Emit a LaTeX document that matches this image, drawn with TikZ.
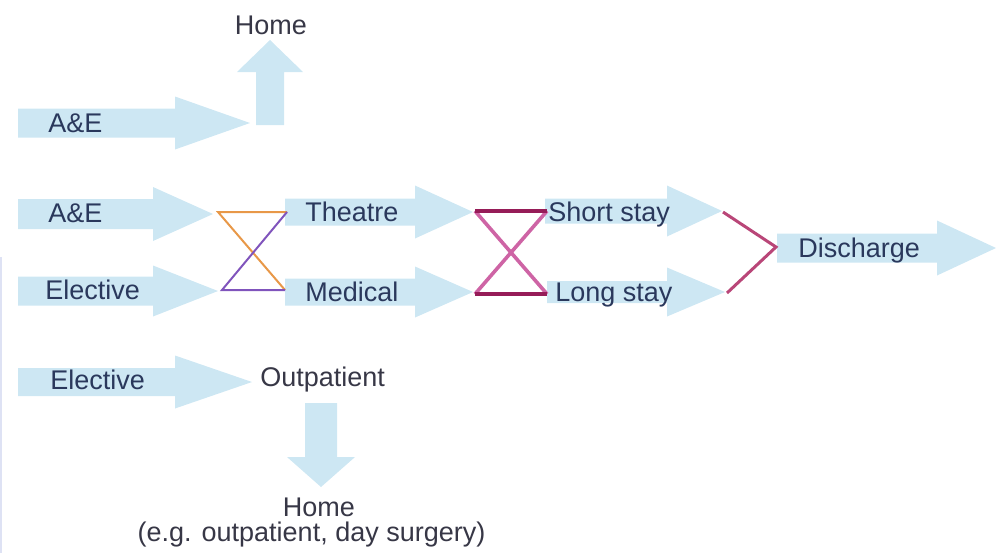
\documentclass[tikz,border=0pt]{standalone}
\usepackage{fontspec}
\setmainfont{Liberation Sans}
\usepackage{tikz}
\usetikzlibrary{positioning}
\definecolor{flowblue}{RGB}{205,231,243}
\definecolor{flowtext}{RGB}{42,56,92}
\definecolor{flowgrey}{RGB}{55,55,70}
\definecolor{flowedge}{RGB}{222,226,244}
\definecolor{xorange}{RGB}{232,152,72}
\definecolor{xpurple}{RGB}{128,84,188}
\definecolor{xcrimson}{RGB}{150,28,88}
\definecolor{xpink}{RGB}{206,100,165}
\definecolor{xmerge}{RGB}{185,70,120}
% horizontal block arrow: x start, head base, tip, y, body half, head half
\newcommand{\flowarrow}[6]{%
  \fill[flowblue] (#1,#4-#5) -- (#2,#4-#5) -- (#2,#4-#6) -- (#3,#4) -- (#2,#4+#6) -- (#2,#4+#5) -- (#1,#4+#5) -- cycle;}
% vertical block arrow: x centre, y start, head base, tip, body half, head half
\newcommand{\vflowarrow}[6]{%
  \fill[flowblue] (#1-#5,#2) -- (#1-#5,#3) -- (#1-#6,#3) -- (#1,#4) -- (#1+#6,#3) -- (#1+#5,#3) -- (#1+#5,#2) -- cycle;}
\begin{document}
\begin{tikzpicture}[x=0.5pt,y=-0.5pt,font=\fontsize{13.5}{16}\selectfont,
    every node/.style={inner sep=0pt,text height=9.7pt,text depth=0pt,text=flowtext},
    lbl/.style={anchor=west},
    plain/.style={text=flowgrey,align=center}]
    \useasboundingbox (0,0) rectangle (996,553);
    \draw[flowedge,line width=0.6pt] (1,257) -- (1,553);
    % arrows
    \flowarrow{18}{175}{250}{123}{14.5}{26.5}
    \vflowarrow{270}{125}{72}{40}{14}{33}
    \flowarrow{18}{153}{213}{214}{15}{27}
    \flowarrow{18}{153}{218}{291}{14.5}{25.5}
    \flowarrow{285}{415}{473}{212}{13.5}{26.5}
    \flowarrow{285}{415}{473}{292}{13.5}{25.5}
    \flowarrow{545}{667}{722}{211}{12.5}{25.5}
    \flowarrow{547}{667}{725}{292}{11}{24.5}
    \flowarrow{777}{937}{996}{248}{14.5}{27.5}
    \flowarrow{18}{175}{252}{382}{14}{26.5}
    \vflowarrow{321}{403}{457}{487}{16}{34}
    % labels
    \node[plain] (home) at (271,25) {Home};
    \node[lbl] (ae) at (48,123) {A\&E};
    \node[lbl] (ae2) at (48,213) {A\&E};
    \node[lbl] (elec) at (45,290) {Elective};
    \node[lbl] (theatre) at (305,212) {Theatre};
    \node[lbl] (medical) at (305,292) {Medical};
    \node[lbl] (short) at (548,212) {Short stay};
    \node[lbl] (long) at (555,292) {Long stay};
    \node[lbl] (disch) at (798,248) {Discharge};
    \node[lbl] (elec2) at (50,380) {Elective};
    \node[lbl,text=flowgrey] (outp) at (260,377) {Outpatient};
    \node[plain] (home2) at (319,507) {Home};
    \node[plain] (eg) at (311.5,532) {(e.g. outpatient, day surgery)};
    % crossing points
    \coordinate (tl1) at (218,212);
    \coordinate (tr1) at (287,212);
    \coordinate (bl1) at (222,290);
    \coordinate (br1) at (285,290);
    \coordinate (tl2) at (475,211);
    \coordinate (tr2) at (547,211);
    \coordinate (bl2) at (475,294);
    \coordinate (br2) at (547,294);
    \coordinate (ms) at (723,212);
    \coordinate (mj) at (776,247);
    \coordinate (ml) at (727,293);
    \draw[xorange,line width=1pt] (tr1) -- (tl1) -- (br1);
    \draw[xpurple,line width=1pt] (tr1) -- (bl1) -- (br1);
    \draw[xpink,line width=1.8pt] (tl2) -- (br2) (bl2) -- (tr2);
    \draw[xcrimson,line width=1.8pt] (tl2) -- (tr2) (bl2) -- (br2);
    \draw[xmerge,line width=1.5pt] (ms) -- (mj) -- (ml);
  \end{tikzpicture}
\end{document}
